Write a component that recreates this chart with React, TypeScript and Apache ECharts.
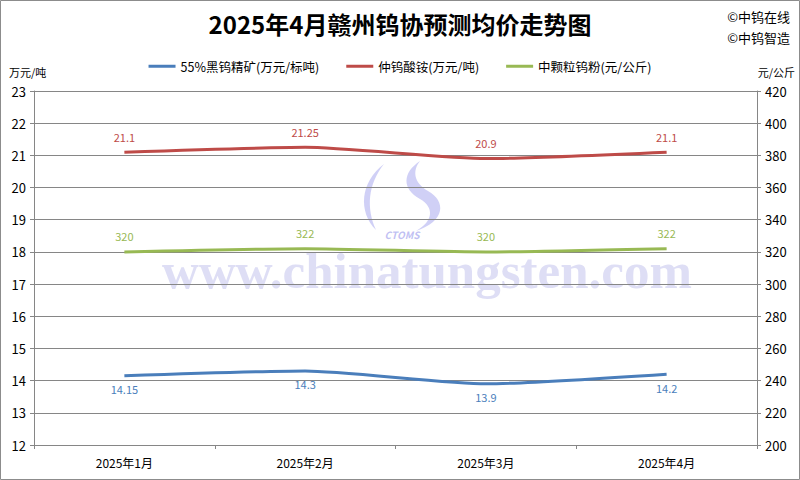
import React, { useEffect, useRef } from "react";
import * as echarts from "echarts";

const categories = ["2025年1月", "2025年2月", "2025年3月", "2025年4月"];
const wolframite = [14.15, 14.3, 13.9, 14.2];
const apt = [21.1, 21.25, 20.9, 21.1];
const tungstenPowder = [320, 322, 320, 322];
const seriesNames = ["55%黑钨精矿(万元/标吨)", "仲钨酸铵(万元/吨)", "中颗粒钨粉(元/公斤)"];
const colors = ["#4a7ebb", "#be4b48", "#98b954"];
const titleText = "2025年4月赣州钨协预测均价走势图";
const leftUnit = "万元/吨";
const rightUnit = "元/公斤";
const credits = ["©中钨在线", "©中钨智造"];
const watermark = "www.chinatungsten.com";

const crescentA = "M22,0 C-2,18 -4,48 14,66 C4,44 6,20 22,0 Z";
const crescentB = "M48,2 C30,14 30,30 48,40 C62,48 62,62 44,72 C74,62 74,42 56,32 C42,24 40,12 48,2 Z";

let registered = false;

export default function App() {
  const ref = useRef<HTMLDivElement>(null);
  useEffect(() => {
    if (!ref.current) return;
    if (!registered) {
      echarts.graphic.registerShape("cresA", echarts.graphic.extendPath(crescentA, {}));
      echarts.graphic.registerShape("cresB", echarts.graphic.extendPath(crescentB, {}));
      registered = true;
    }
    const chart = echarts.init(ref.current, null, { renderer: "svg" });
    const font = "'Noto Sans CJK SC', 'Noto Sans', sans-serif";
    const gray = "#868686";
    const mkSeries = (name: string, data: number[], color: string, yIdx: number, pos: string, dist: number) => ({
      name,
      type: "line",
      yAxisIndex: yIdx,
      data,
      smooth: 0.2,
      symbol: "circle",
      symbolSize: 0.01,
      showSymbol: true,
      lineStyle: { color, width: 3 },
      itemStyle: { color },
      label: { show: true, position: pos, distance: dist, color, fontSize: 11, fontFamily: font },
      z: 5,
    });
    chart.setOption({
      animation: false,
      backgroundColor: "#fff",
      textStyle: { fontFamily: font },
      color: colors,
      title: {
        text: titleText,
        left: "center",
        top: 6,
        textStyle: { fontSize: 24, fontWeight: "bold", color: "#000", fontFamily: font },
      },
      legend: {
        top: 55,
        left: "center",
        icon: "rect",
        itemWidth: 27,
        itemHeight: 3,
        itemGap: 27,
        textStyle: { fontSize: 12.5, color: "#000", fontFamily: font },
        data: seriesNames,
      },
      grid: { left: 34, right: 43, top: 91, bottom: 35 },
      xAxis: {
        type: "category",
        data: categories,
        axisLine: { lineStyle: { color: gray } },
        axisTick: { show: true, length: 4, lineStyle: { color: gray } },
        axisLabel: { fontSize: 12, color: "#000", margin: 11, fontFamily: font },
      },
      yAxis: [
        {
          type: "value",
          min: 12,
          max: 23,
          interval: 1,
          axisLine: { show: true, lineStyle: { color: gray } },
          axisTick: { show: true, length: 4, lineStyle: { color: gray } },
          splitLine: { lineStyle: { color: gray } },
          axisLabel: { fontSize: 13, color: "#000", margin: 8, fontFamily: font },
        },
        {
          type: "value",
          min: 200,
          max: 420,
          interval: 20,
          position: "right",
          axisLine: { show: true, lineStyle: { color: gray } },
          axisTick: { show: true, length: 4, lineStyle: { color: gray } },
          splitLine: { show: false },
          axisLabel: { fontSize: 13, color: "#000", margin: 8, fontFamily: font },
        },
      ],
      graphic: [
        { type: "rect", shape: { x: 0.5, y: 0.5, width: 799, height: 479 }, style: { fill: "none", stroke: "#8c8c8c", lineWidth: 1 }, silent: true, z: -10 },
        { type: "text", x: 790, y: 10, style: { text: credits[0], fill: "#000", textAlign: "right", font: `13px ${font}` } },
        { type: "text", x: 790, y: 31, style: { text: credits[1], fill: "#000", textAlign: "right", font: `13px ${font}` } },
        { type: "text", x: 9, y: 66, style: { text: leftUnit, fill: "#000", font: `11px ${font}` } },
        { type: "text", x: 795, y: 66, style: { text: rightUnit, fill: "#000", textAlign: "right", font: `11px ${font}` } },
        { type: "text", x: 427, y: 271, style: { text: watermark, fill: "rgba(190,190,235,0.5)", textAlign: "center", textVerticalAlign: "middle", font: `bold 51px 'Liberation Serif', serif` }, silent: true, z: -5 },
        { type: "cresA", x: 362, y: 164, scaleX: 1, scaleY: 1, style: { fill: "rgba(150,150,235,0.45)" }, silent: true, z: -5 },
        { type: "cresB", x: 372, y: 159, scaleX: 1, scaleY: 1, style: { fill: "rgba(150,150,235,0.45)" }, silent: true, z: -5 },
        { type: "text", x: 402, y: 234, style: { text: "CTOMS", fill: "rgba(150,150,235,0.6)", textAlign: "center", textVerticalAlign: "middle", font: `italic bold 10px ${font}` }, silent: true, z: -5 },
      ],
      series: [
        mkSeries(seriesNames[0], wolframite, colors[0], 0, "bottom", 8),
        mkSeries(seriesNames[1], apt, colors[1], 0, "top", 10),
        mkSeries(seriesNames[2], tungstenPowder, colors[2], 1, "top", 10),
      ],
    });
    return () => chart.dispose();
  }, []);
  return <div ref={ref} style={{ position: "fixed", left: 0, top: 0, width: 800, height: 480 }} />;
}
